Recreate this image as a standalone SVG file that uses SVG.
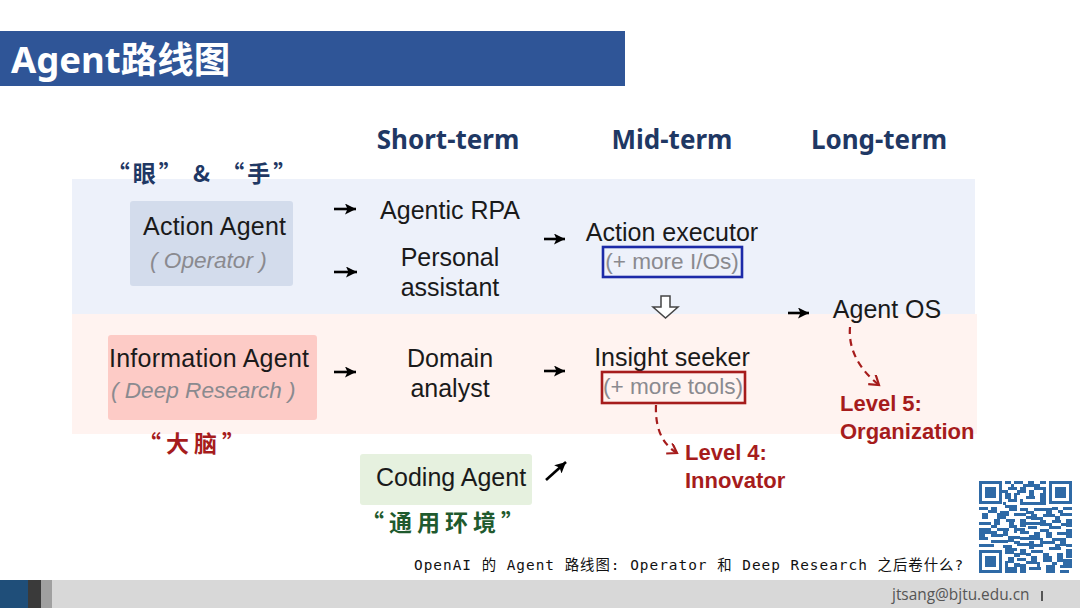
<svg xmlns="http://www.w3.org/2000/svg" width="1080" height="608" viewBox="0 0 1080 608">
<style>
.s{font-family:"Liberation Sans",Arial,sans-serif;fill:#1a1a1a;font-size:25px}
.g{font-family:"Liberation Sans",Arial,sans-serif;fill:#8a8a8f;font-size:22.600px}
.i{font-style:italic}
.h{font-family:"Noto Sans","Noto Sans CJK SC",sans-serif;font-weight:700;font-size:26px;fill:#1f3864}
.r{font-family:"Liberation Sans",Arial,sans-serif;font-weight:700;font-size:22px;fill:#a61c1c}
.q{font-family:"Noto Sans CJK SC",sans-serif;font-weight:700;font-size:23px}
.m{font-family:"DejaVu Sans Mono","Noto Sans CJK SC",monospace;font-size:14.400px;letter-spacing:1px;fill:#111}
.a{fill:none;stroke:#000;stroke-width:2.600}
.d{fill:none;stroke:#a61c1c;stroke-width:2.200;stroke-dasharray:7 5}
</style>
<defs>
<marker id="ah" markerWidth="12" markerHeight="12" refX="11" refY="5.500" orient="auto" markerUnits="userSpaceOnUse"><path d="M0 0L11 5.500L0 11L2.500 5.500Z" fill="#000"/></marker>
<marker id="rh" markerWidth="14" markerHeight="14" refX="11" refY="6" orient="auto" markerUnits="userSpaceOnUse"><path d="M2 0L11 6L2 12" fill="none" stroke="#a61c1c" stroke-width="2.200"/></marker>
</defs>
<rect width="1080" height="608" fill="#fff"/>
<g id="bands">
<rect x="72" y="179" width="903" height="135" fill="#edf1fa"/>
<rect x="72" y="314" width="905" height="120" fill="#fff3f0"/>
</g>
<g id="title">
<rect x="0" y="31" width="625" height="55" fill="#2f5597"/>
<text x="11" y="73" font-family="'Noto Sans','Noto Sans CJK SC',sans-serif" font-weight="700" font-size="36.500" fill="#fff">Agent路线图</text>
</g>
<g id="headers">
<text class="h" x="448" y="149" text-anchor="middle">Short-term</text>
<text class="h" x="672" y="149" text-anchor="middle">Mid-term</text>
<text class="h" x="879" y="149" text-anchor="middle">Long-term</text>
</g>
<g id="action-agent">
<rect x="130" y="201" width="163" height="85" rx="3" fill="#d3dcec"/>
<text class="s" x="143" y="235" textLength="143">Action Agent</text>
<text class="g i" x="150" y="268">( Operator )</text>
<text class="q" x="203" y="182" text-anchor="middle" fill="#1f3864" letter-spacing="3">“眼” &amp; “手”</text>
</g>
<g id="information-agent">
<rect x="108" y="335" width="209" height="85" rx="3" fill="#fdcbc6"/>
<text class="s" x="109" y="367" textLength="200">Information Agent</text>
<text class="g i" x="111" y="398">( Deep Research )</text>
<text class="q" x="194" y="452" text-anchor="middle" fill="#a61c1c" letter-spacing="5">“大脑”</text>
</g>
<g id="coding-agent">
<rect x="360" y="454" width="172" height="51" rx="3" fill="#e6f1df"/>
<text class="s" x="376" y="486">Coding Agent</text>
<text class="q" x="445" y="531" text-anchor="middle" fill="#1f5a2e" letter-spacing="5">“通用环境”</text>
</g>
<g id="agentic-rpa"><text class="s" x="450" y="219" text-anchor="middle">Agentic RPA</text></g>
<g id="personal-assistant">
<text class="s" x="450" y="266" text-anchor="middle">Personal</text>
<text class="s" x="450" y="296" text-anchor="middle">assistant</text>
</g>
<g id="domain-analyst">
<text class="s" x="450" y="367" text-anchor="middle">Domain</text>
<text class="s" x="450" y="397" text-anchor="middle">analyst</text>
</g>
<g id="action-executor">
<text class="s" x="672" y="241" text-anchor="middle">Action executor</text>
<text class="g" x="672" y="269" text-anchor="middle">(+ more I/Os)</text>
<rect x="603" y="247" width="139" height="30" fill="none" stroke="#1c2aa8" stroke-width="2.600"/>
</g>
<g id="insight-seeker">
<text class="s" x="672" y="366" text-anchor="middle">Insight seeker</text>
<text class="g" x="673" y="394" text-anchor="middle">(+ more tools)</text>
<rect x="602" y="372" width="143" height="31" fill="none" stroke="#a61c1c" stroke-width="2.600"/>
</g>
<g id="agent-os"><text class="s" x="887" y="318" text-anchor="middle">Agent OS</text></g>
<g id="level-4">
<text class="r" x="685" y="460">Level 4:</text>
<text class="r" x="685" y="488">Innovator</text>
</g>
<g id="level-5">
<text class="r" x="840" y="411">Level 5:</text>
<text class="r" x="840" y="439">Organization</text>
</g>
<g id="connectors">
<path class="a" d="M334 209H356" marker-end="url(#ah)"/>
<path class="a" d="M334 272H357" marker-end="url(#ah)"/>
<path class="a" d="M544 239H565" marker-end="url(#ah)"/>
<path class="a" d="M334 372H356" marker-end="url(#ah)"/>
<path class="a" d="M544 371H565" marker-end="url(#ah)"/>
<path class="a" d="M788 313H809" marker-end="url(#ah)"/>
<path class="a" d="M546 480L566 462" marker-end="url(#ah)"/>
<path d="M661 296H670V307H678L665.500 318L653 307H661Z" fill="#fff" stroke="#444" stroke-width="1.500"/>
<path class="d" d="M656 405C655 428 662 444 677 453" marker-end="url(#rh)"/>
<path class="d" d="M850 327C848 350 860 370 879 385" marker-end="url(#rh)"/>
</g>
<g id="caption"><text class="m" x="414" y="570" xml:space="preserve">OpenAI 的 Agent 路线图: Operator 和 Deep Research 之后卷什么?</text></g>
<g id="footer">
<rect x="0" y="580" width="1080" height="28" fill="#d8d8d8"/>
<rect x="0" y="580" width="28" height="28" fill="#1f4e79"/>
<rect x="28" y="580" width="13" height="28" fill="#3a3a3a"/>
<rect x="41" y="580" width="11" height="28" fill="#a0a0a0"/>
<text x="892" y="600" font-family="'Open Sans','Liberation Sans',sans-serif" font-size="15.400" fill="#555">jtsang@bjtu.edu.cn</text>
<rect x="1041" y="591" width="2" height="10" fill="#555"/>
</g>
<g id="qr" fill="#2f6aa6">
<path fill-rule="evenodd" d="M979 481h23v23h-23zM982 484v17h17v-17zM1049 481h23v23h-23zM1052 484v17h17v-17zM979 550h23v23h-23zM982 553v17h17v-17z"/>
<rect x="985" y="487" width="11" height="11"/><rect x="1055" y="487" width="11" height="11"/><rect x="985" y="556" width="11" height="11"/>
<path d="M1005 481h6v3h-6zM1014 481h9v3h-9zM1028 481h6v6h-6zM1040 481h6v3h-6zM1008 487h9v3h-9zM1020 487h6v6h-6zM1037 487h9v3h-9zM1005 493h6v6h-6zM1014 493h3v9h-3zM1026 496h9v3h-9zM1040 493h6v6h-6zM1020 499h3v6h-3zM1031 502h9v3h-9zM1005 505h12v3h-12z"/>
<path d="M979 507h9v3h-9zM991 507h6v6h-6zM1020 508h8v3h-8zM1034 508h12v3h-12zM1052 507h6v3h-6zM1063 507h9v3h-9zM982 513h6v6h-6zM1000 511h9v5h-9zM1014 513h12v3h-12zM1031 514h6v6h-6zM1043 514h12v3h-12zM1060 513h12v3h-12zM979 522h12v3h-12zM994 519h6v6h-6zM1006 519h9v3h-9zM1020 519h6v8h-6zM1040 520h6v6h-6zM1052 520h9v3h-9zM1066 519h6v8h-6zM985 528h6v6h-6zM997 528h12v3h-12zM1014 525h3v8h-3zM1028 526h9v3h-9zM1049 526h12v3h-12zM979 537h9v3h-9zM994 534h9v3h-9zM1008 536h6v6h-6zM1020 531h9v3h-9zM1034 532h6v8h-6zM1046 532h6v6h-6zM1057 532h12v3h-12zM991 540h9v3h-9zM1020 537h9v3h-9zM1043 541h12v3h-12zM1060 538h6v8h-6zM979 544h15v3h-15zM1003 545h9v3h-9zM1017 543h12v3h-12zM1034 544h6v3h-6z"/>
<path d="M1005 551h9v3h-9zM1020 549h6v6h-6zM1031 550h12v3h-12zM1049 547h12v3h-12zM1066 549h6v9h-6zM1008 557h6v6h-6zM1017 558h9v3h-9zM1031 556h6v6h-6zM1043 556h9v6h-9zM1057 553h6v9h-6zM1005 567h12v6h-12zM1020 564h6v9h-6zM1029 567h12v3h-12zM1037 562h3v5h-3zM1046 565h9v8h-9zM1060 565h12v3h-12zM1060 570h9v3h-9z"/>
<path d="M1011 484h3v6h-3zM1023 484h5v3h-5zM1034 484h6v6h-6zM1046 487h-3v6h3zM1002 490h6v3h-6zM1017 490h3v5h-3zM1029 490h5v6h-5zM1008 499h6v3h-6zM1023 502h8v3h-8zM1040 499h6v6h-6zM1003 502h3v3h-3zM988 510h3v3h-3zM997 513h3v6h-3zM1009 508h8v3h-8zM1026 511h8v3h-8zM1046 508h6v6h-6zM1058 510h5v3h-5zM1000 516h6v3h-6zM1026 516h5v3h-5zM1037 517h6v3h-6zM1055 516h5v4h-5zM991 525h6v3h-6zM1009 522h5v6h-5zM1026 522h14v3h-14zM1046 523h6v3h-6zM1061 523h5v3h-5zM979 528h6v9h-6zM991 531h6v6h-6zM1003 531h5v5h-5zM1017 528h8v3h-8zM1040 529h9v3h-9zM1066 529h6v9h-6zM1014 536h6v3h-6zM1029 535h5v5h-5zM1052 538h8v3h-8zM1000 540h8v3h-8zM1014 541h6v3h-6zM1029 541h5v8h-5zM1040 538h3v9h-3zM1055 544h5v3h-5zM1066 544h6v3h-6zM1005 548h12v3h-12zM1043 553h6v3h-6zM1026 553h5v3h-5zM1014 553h6v4h-6zM1005 561h3v6h-3zM1014 563h6v4h-6zM1026 561h11v3h-11zM1052 562h5v3h-5zM1063 559h9v6h-9z"/>
</g>
</svg>
